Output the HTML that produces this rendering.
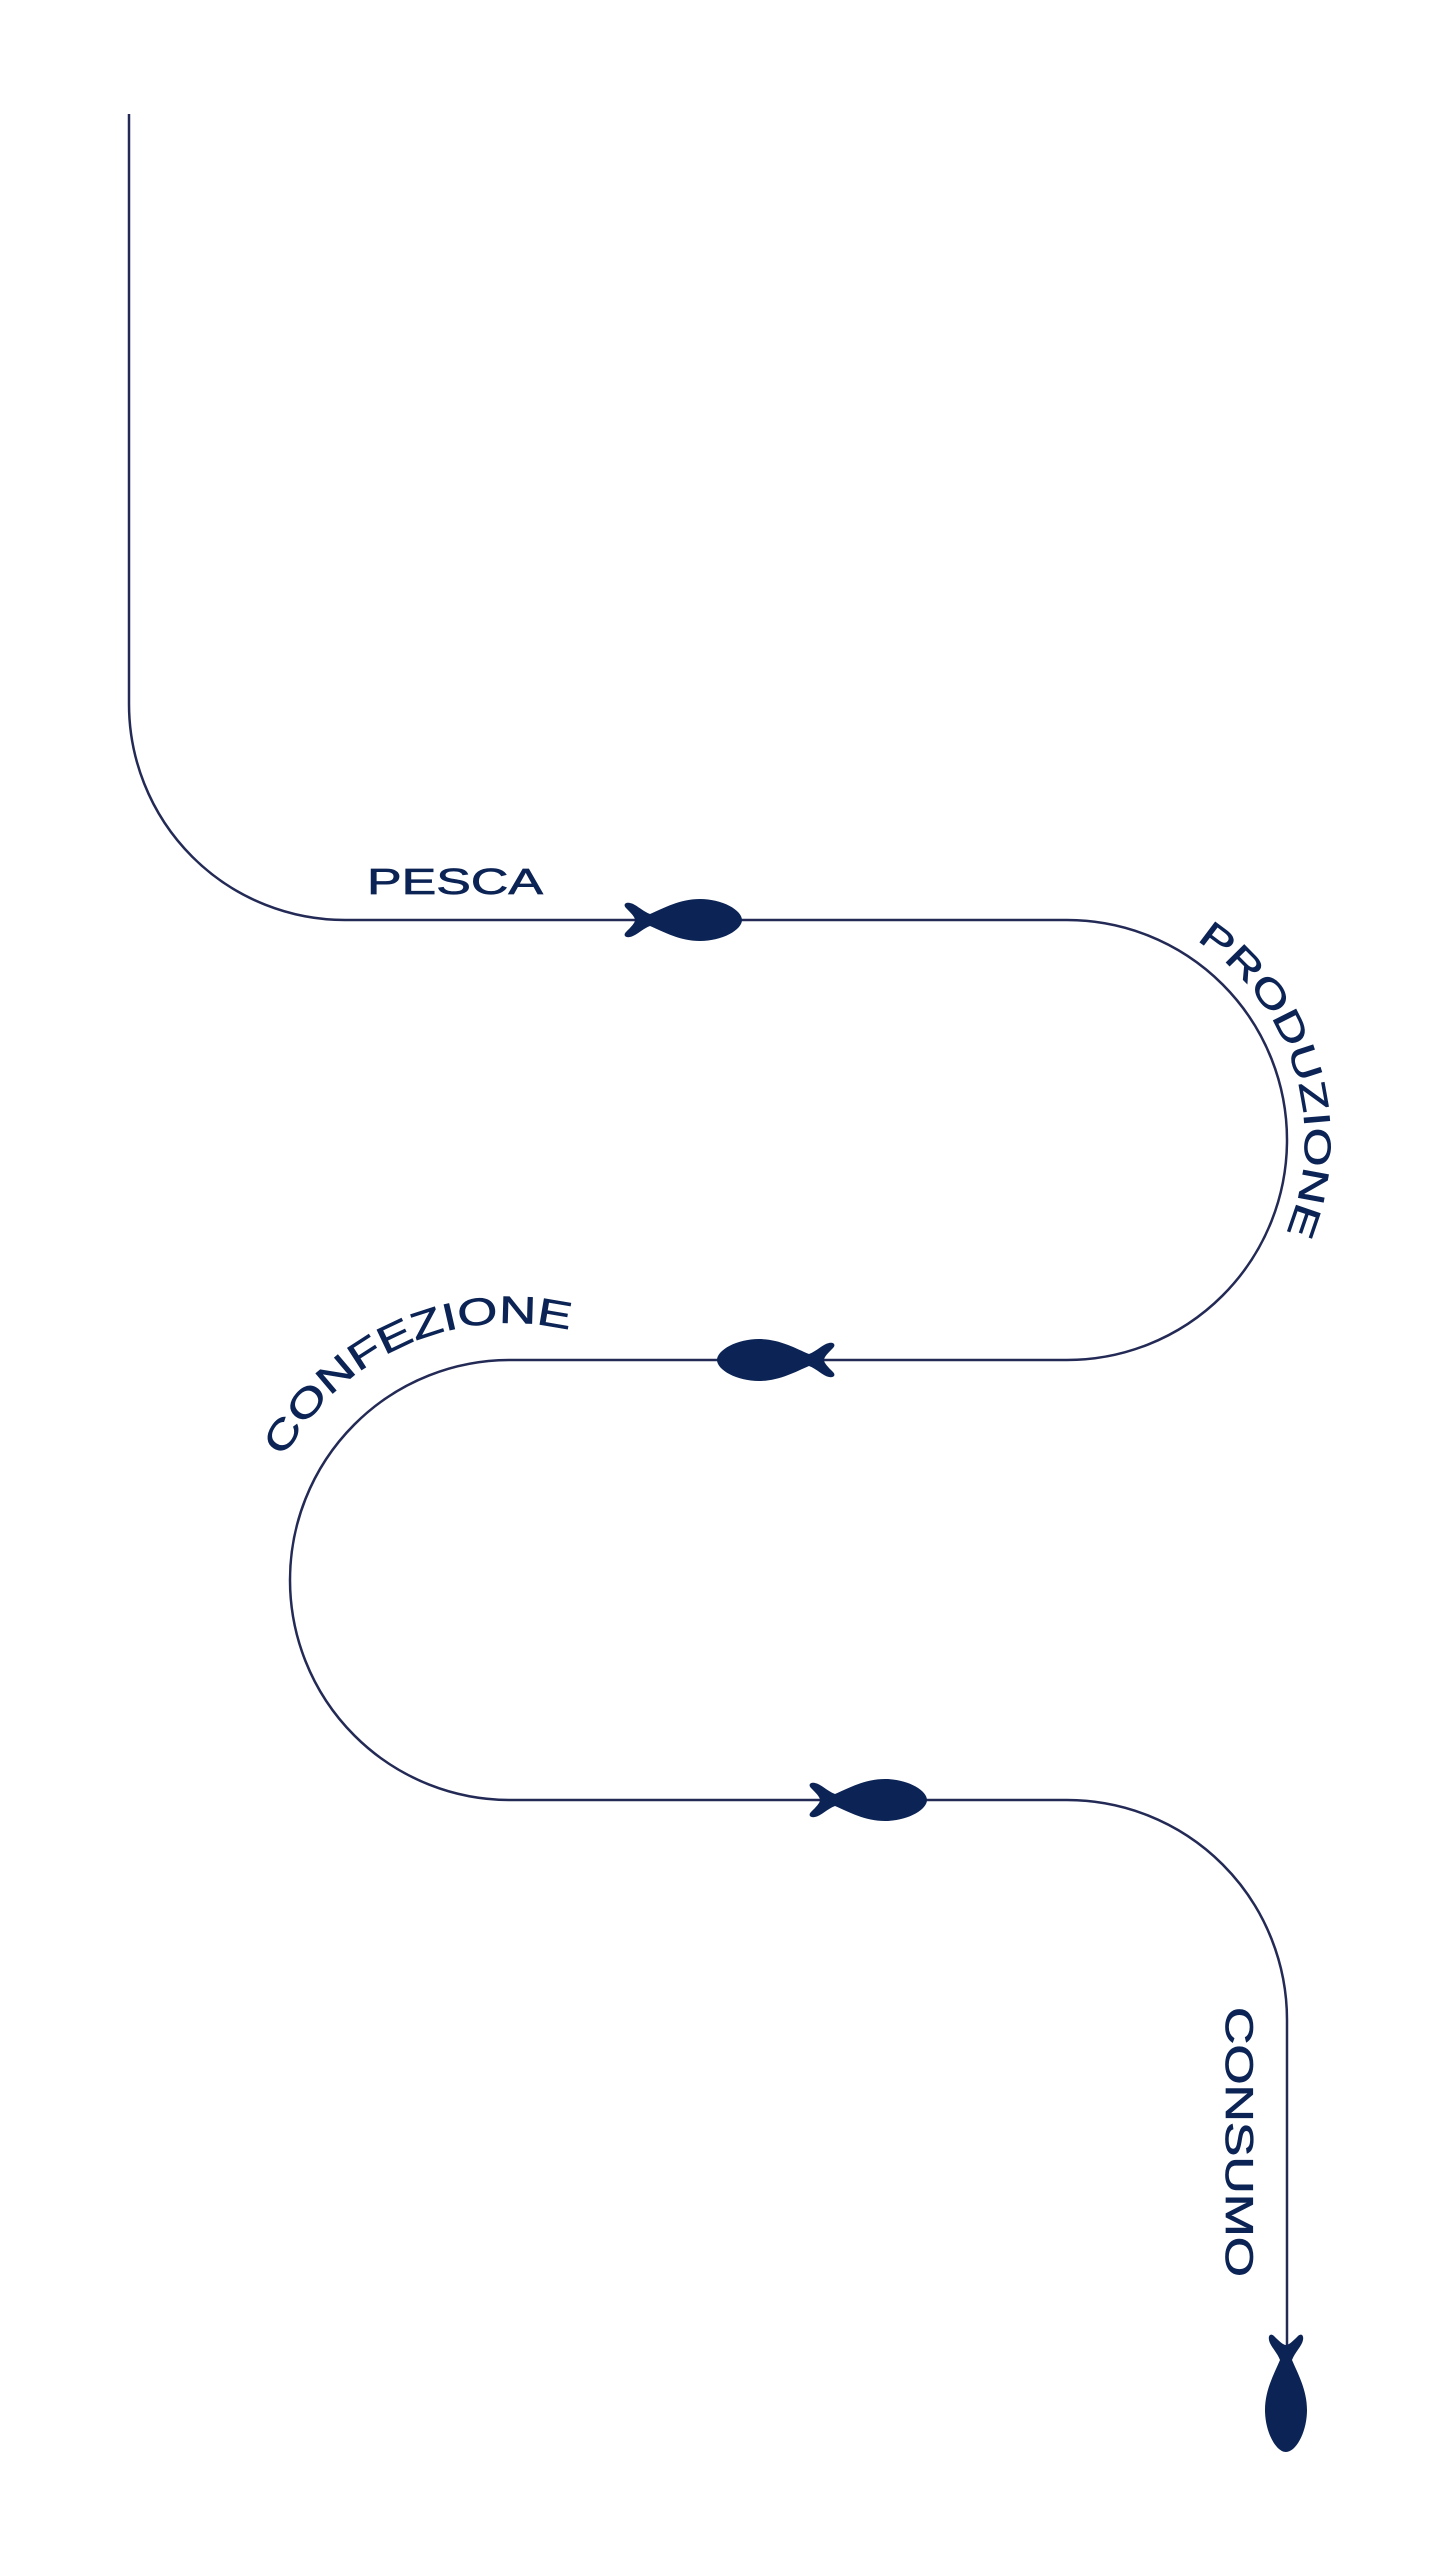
<!DOCTYPE html>
<html><head><meta charset="utf-8"><style>
html,body{margin:0;padding:0;background:#fff;}
svg{display:block;}
text{font-family:"Liberation Sans",sans-serif;fill:#0c2455;stroke:#0c2455;stroke-width:0.7;}
</style></head><body>
<svg width="1439" height="2560" viewBox="0 0 1439 2560" xmlns="http://www.w3.org/2000/svg">
<defs>
<path id="fish" d="M0,0 C0,-10 -20,-21 -42,-21 C-62,-21 -78,-12 -92,-6 C-100,-9 -106,-16 -112,-17 C-117,-18 -119,-15 -116,-12 C-111,-7 -107,-3 -107,0 C-107,3 -111,7 -116,12 C-119,15 -117,18 -112,17 C-106,16 -100,9 -92,6 C-78,12 -62,21 -42,21 C-20,21 0,10 0,0 Z" fill="#0c2455"/>
<path id="pConf" d="M283.1,1459.4 A257,257 0 0 1 597.9,1338.5" fill="none"/>
<path id="pProd" d="M1193.1,938.2 A238,238 0 0 1 1284.4,1236.8" fill="none"/>
</defs>
<path d="M129,114 V704 A216,216 0 0 0 345,920 H1067 A220,220 0 0 1 1067,1360 H510 A220,220 0 0 0 510,1800 H1067 A220,220 0 0 1 1287,2020 V2345" fill="none" stroke="#232a55" stroke-width="2.5"/>
<use href="#fish" transform="translate(742,920)"/>
<use href="#fish" transform="translate(717,1360) scale(-1,1)"/>
<use href="#fish" transform="translate(927,1800)"/>
<use href="#fish" transform="translate(1286,2452) rotate(90)"/>
<text x="367" y="894" font-size="36" textLength="176" lengthAdjust="spacingAndGlyphs">PESCA</text>
<text font-size="38"><textPath href="#pConf" startOffset="2" textLength="336" lengthAdjust="spacingAndGlyphs">CONFEZIONE</textPath></text>
<text font-size="37"><textPath href="#pProd" startOffset="4" textLength="332" lengthAdjust="spacingAndGlyphs">PRODUZIONE</textPath></text>
<text transform="translate(1226,2007) rotate(90)" x="0" y="0" font-size="39" textLength="270" lengthAdjust="spacingAndGlyphs">CONSUMO</text>
</svg>
</body></html>
